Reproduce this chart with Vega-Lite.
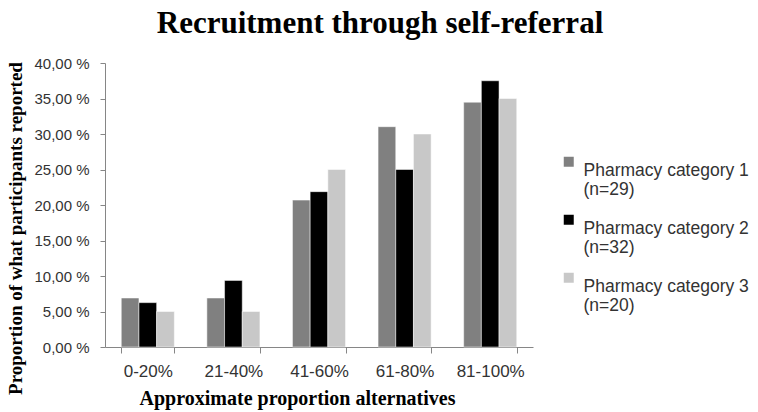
{
  "$schema": "https://vega.github.io/schema/vega-lite/v6.json",
  "width": 428,
  "height": 284,
  "autosize": {"type": "none"},
  "padding": {"left": 105, "top": 63, "right": 225, "bottom": 65},
  "background": "white",
  "title": {
    "text": "Recruitment through self-referral",
    "font": "Liberation Serif",
    "fontSize": 31,
    "fontWeight": "bold",
    "color": "#000000",
    "anchor": "middle",
    "dx": 61,
    "offset": 16
  },
  "config": {"view": {"stroke": null}},
  "data": {
    "values": [
      {"range": "0-20%", "category": "Pharmacy category 1 (n=29)", "pct": 6.90},
      {"range": "0-20%", "category": "Pharmacy category 2 (n=32)", "pct": 6.25},
      {"range": "0-20%", "category": "Pharmacy category 3 (n=20)", "pct": 5.00},
      {"range": "21-40%", "category": "Pharmacy category 1 (n=29)", "pct": 6.90},
      {"range": "21-40%", "category": "Pharmacy category 2 (n=32)", "pct": 9.38},
      {"range": "21-40%", "category": "Pharmacy category 3 (n=20)", "pct": 5.00},
      {"range": "41-60%", "category": "Pharmacy category 1 (n=29)", "pct": 20.69},
      {"range": "41-60%", "category": "Pharmacy category 2 (n=32)", "pct": 21.88},
      {"range": "41-60%", "category": "Pharmacy category 3 (n=20)", "pct": 25.00},
      {"range": "61-80%", "category": "Pharmacy category 1 (n=29)", "pct": 31.03},
      {"range": "61-80%", "category": "Pharmacy category 2 (n=32)", "pct": 25.00},
      {"range": "61-80%", "category": "Pharmacy category 3 (n=20)", "pct": 30.00},
      {"range": "81-100%", "category": "Pharmacy category 1 (n=29)", "pct": 34.48},
      {"range": "81-100%", "category": "Pharmacy category 2 (n=32)", "pct": 37.50},
      {"range": "81-100%", "category": "Pharmacy category 3 (n=20)", "pct": 35.00}
    ]
  },
  "mark": {"type": "bar", "stroke": "#ffffff", "strokeWidth": 0.5},
  "encoding": {
    "x": {
      "field": "range",
      "type": "nominal",
      "sort": null,
      "scale": {"paddingInner": 0.38, "paddingOuter": 0.19},
      "axis": {
        "title": "Approximate proportion alternatives",
        "titleFont": "Liberation Serif",
        "titleFontSize": 20,
        "titleFontWeight": "bold",
        "titleColor": "#000000",
        "titleX": 192,
        "titleY": 57,
        "titleBaseline": "alphabetic",
        "labelAngle": 0,
        "labelFont": "Liberation Sans",
        "labelFontSize": 17,
        "labelColor": "#333333",
        "labelPadding": 10,
        "domainColor": "#868686",
        "tickColor": "#868686",
        "tickBand": "extent",
        "tickSize": 6,
        "grid": false
      }
    },
    "xOffset": {"field": "category", "type": "nominal", "sort": null, "scale": {"paddingInner": 0}},
    "y": {
      "field": "pct",
      "type": "quantitative",
      "scale": {"domain": [0, 40]},
      "axis": {
        "title": "Proportion of what participants reported",
        "titleFont": "Liberation Serif",
        "titleFontSize": 19,
        "titleFontWeight": "bold",
        "titleColor": "#000000",
        "titleX": -90,
        "titleY": 165,
        "titleBaseline": "middle",
        "values": [0, 5, 10, 15, 20, 25, 30, 35, 40],
        "labelExpr": "replace(format(datum.value, '.2f'), '.', ',') + ' %'",
        "labelFont": "Liberation Sans",
        "labelFontSize": 15,
        "labelColor": "#333333",
        "labelPadding": 11,
        "domainColor": "#868686",
        "tickColor": "#868686",
        "tickSize": 5,
        "grid": false
      }
    },
    "color": {
      "field": "category",
      "type": "nominal",
      "sort": null,
      "scale": {"range": ["#808080", "#000000", "#c8c8c8"]},
      "legend": {
        "title": null,
        "orient": "none",
        "legendX": 455,
        "legendY": 90,
        "symbolType": "square",
        "symbolSize": 100,
        "symbolStrokeWidth": 0,
        "labelFont": "Liberation Sans",
        "labelFontSize": 17.5,
        "labelColor": "#333333",
        "labelLimit": 300,
        "labelOffset": 6,
        "labelBaseline": "top",
        "labelExpr": "[substring(datum.label, 0, 19), substring(datum.label, 20)]",
        "rowPadding": 12,
        "encode": {"labels": {"update": {"lineHeight": {"value": 27}}}}
      }
    }
  }
}
